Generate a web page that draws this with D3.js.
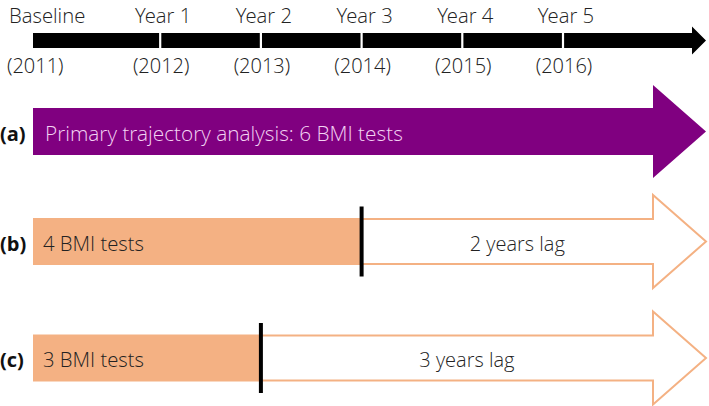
<!DOCTYPE html>
<html>
<head>
<meta charset="utf-8">
<script src="https://cdn.jsdelivr.net/npm/d3@7"></script>
<style>
  html, body { margin: 0; padding: 0; background: #fff; }
  svg { display: block; }
  text { font-family: "Open Sans Light", "Open Sans", "Noto Sans", sans-serif; }
  text.bold { font-family: "Open Sans", "Noto Sans", sans-serif; }
</style>
</head>
<body>
<svg id="chart" width="709" height="406"></svg>
<script>
// ---- data ----
const timeLabels = ["Baseline", "Year 1", "Year 2", "Year 3", "Year 4", "Year 5"];
const yearLabels = ["(2011)", "(2012)", "(2013)", "(2014)", "(2015)", "(2016)"];
const timeIndex = [0, 1, 2, 3, 4, 5];
const rowLabels = ["(a)", "(b)", "(c)"];
const rowTexts = ["Primary trajectory analysis: 6 BMI tests", "4 BMI tests", "3 BMI tests"];
const testsCount = [6, 4, 3];
const lagTexts = ["", "2 years lag", "3 years lag"];

// ---- layout ----
const svg = d3.select("#chart");
const left = 33, headBase = 653, tip = 706;
const x = d3.scaleLinear().domain([0, 5]).range([59.5, 563]);
const y = d3.scaleOrdinal().domain(rowLabels).range([131.5, 241.5, 358]);

const purple = "#800080";
const orange = "#f4b183";

// ---- top timeline ----
const tlY = 40.5, tlHalf = 7.5, tlHead = 14, tlBase = 692;
svg.append("path")
  .attr("d", `M${left},${tlY - tlHalf} L${tlBase},${tlY - tlHalf} L${tlBase},${tlY - tlHead} L${tip},${tlY} L${tlBase},${tlY + tlHead} L${tlBase},${tlY + tlHalf} L${left},${tlY + tlHalf} Z`)
  .attr("fill", "#000");

svg.selectAll("line.sep").data(timeIndex.filter(d => d > 0)).enter()
  .append("line")
  .attr("x1", d => x(d)).attr("x2", d => x(d))
  .attr("y1", tlY - tlHalf - 1).attr("y2", tlY + tlHalf + 1)
  .attr("stroke", "#fff").attr("stroke-width", 2.2);

svg.selectAll("text.tl").data(timeIndex).enter()
  .append("text")
  .attr("x", d => d === 0 ? 9 : x(d) + 3)
  .attr("y", 23)
  .attr("text-anchor", d => d === 0 ? "start" : "middle")
  .attr("font-size", 20.3).attr("font-weight", 300).attr("fill", "#222")
  .text(d => timeLabels[d]);

svg.selectAll("text.yr").data(timeIndex).enter()
  .append("text")
  .attr("x", d => d === 0 ? 7 : x(d) + 1)
  .attr("y", 73)
  .attr("text-anchor", d => d === 0 ? "start" : "middle")
  .attr("font-size", 20).attr("font-weight", 300).attr("fill", "#222")
  .text(d => yearLabels[d]);

// ---- rows ----
const barHalf = 23.5, headHalf = 46.5, divHalf = 35;

rowLabels.forEach((lab, i) => {
  const cy = y(lab);
  svg.append("text")
    .attr("class", "bold")
    .attr("x", 0).attr("y", cy + 9)
    .attr("font-size", 20).attr("font-weight", 700).attr("fill", "#111")
    .text(lab);

  if (testsCount[i] === 6) {
    svg.append("path")
      .attr("d", `M${left},${cy - barHalf} L${headBase},${cy - barHalf} L${headBase},${cy - headHalf} L${tip},${cy} L${headBase},${cy + headHalf} L${headBase},${cy + barHalf} L${left},${cy + barHalf} Z`)
      .attr("fill", purple);
    svg.append("text")
      .attr("x", 45).attr("y", cy + 9.5)
      .attr("font-size", 20.8).attr("font-weight", 300).attr("fill", "#f3d3f3")
      .text(rowTexts[i]);
  } else {
    const dx = x(testsCount[i] - 1);
    svg.append("rect")
      .attr("x", left).attr("y", cy - barHalf)
      .attr("width", dx - left).attr("height", barHalf * 2)
      .attr("fill", orange);
    svg.append("path")
      .attr("d", `M${dx},${cy - barHalf + 1} L${headBase},${cy - barHalf + 1} L${headBase},${cy - headHalf} L${tip},${cy} L${headBase},${cy + headHalf} L${headBase},${cy + barHalf - 1} L${dx},${cy + barHalf - 1}`)
      .attr("fill", "#fff").attr("stroke", orange).attr("stroke-width", 2);
    svg.append("line")
      .attr("x1", dx).attr("x2", dx)
      .attr("y1", cy - divHalf).attr("y2", cy + divHalf)
      .attr("stroke", "#000").attr("stroke-width", 4);
    svg.append("text")
      .attr("x", 43).attr("y", cy + 9)
      .attr("font-size", 20.3).attr("font-weight", 300).attr("fill", "#222")
      .text(rowTexts[i]);
    svg.append("text")
      .attr("x", (dx + headBase) / 2 + 10).attr("y", cy + 9)
      .attr("text-anchor", "middle")
      .attr("font-size", 20).attr("font-weight", 300).attr("fill", "#222")
      .text(lagTexts[i]);
  }
});
</script>
</body>
</html>
